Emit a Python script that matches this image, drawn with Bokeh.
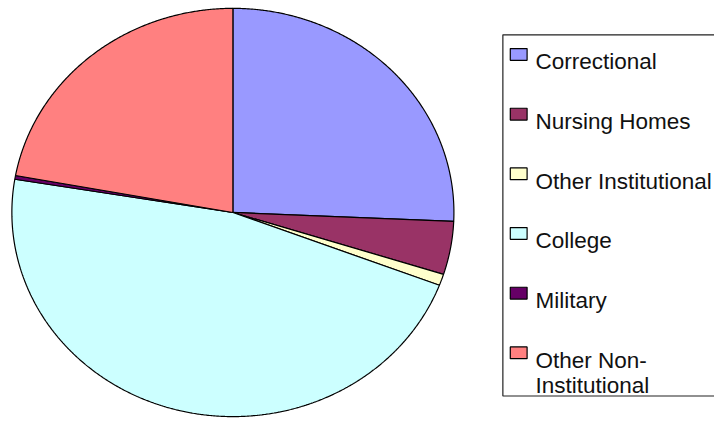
import numpy as np
from bokeh.plotting import figure
from bokeh.models import Range1d, ColumnDataSource
from bokeh.core.properties import value
from bokeh.embed import file_html
from bokeh.resources import INLINE

# ---- data ----
categories = ["Correctional", "Nursing Homes", "Other Institutional",
              "College", "Military", "Other Non-Institutional"]
shares = [25.7, 4.2, 0.9, 46.8, 0.3, 22.1]
colors = ["#9999FF", "#993366", "#FFFFCC", "#CCFFFF", "#660066", "#FF8080"]
legend_lines = [["Correctional"], ["Nursing Homes"], ["Other Institutional"],
                ["College"], ["Military"], ["Other Non-", "Institutional"]]

# ---- layout (coordinates in the reference's 722x429 pixel space) ----
W, H = 714, 421
RW, RH = 722, 429
cx, cy, rx, ry = 235.0, 216.0, 223.5, 208.0
FONT = value("Liberation Sans")

p = figure(width=W, height=H, output_backend="svg", toolbar_location=None,
           x_range=Range1d(0, RW), y_range=Range1d(RH, 0),
           min_border=0)
p.axis.visible = False
p.grid.visible = False
p.outline_line_color = None
p.background_fill_color = "white"

# ---- pie wedges as elliptical patches computed from the shares ----
frac = np.array(shares, dtype=float) / np.sum(shares)
cum = np.concatenate([[0.0], np.cumsum(frac)])
xs, ys = [], []
for i in range(len(frac)):
    a0 = np.pi / 2 - 2 * np.pi * cum[i]
    a1 = np.pi / 2 - 2 * np.pi * cum[i + 1]
    n = max(4, int(abs(a1 - a0) * 180))
    t = np.linspace(a0, a1, n)
    xs.append(list(np.concatenate([[cx], cx + rx * np.cos(t), [cx]])))
    ys.append(list(np.concatenate([[cy], cy - ry * np.sin(t), [cy]])))
src = ColumnDataSource(dict(xs=xs, ys=ys, color=colors, name=categories))
p.patches("xs", "ys", source=src, fill_color="color", line_color="black",
          line_width=1.2)

# ---- legend frame (open on the right: it runs past the picture edge) ----
box_left, box_top, box_bottom = 508, 35, 403
p.line(x=[RW + 20, box_left, box_left, RW + 20],
       y=[box_top, box_top, box_bottom, box_bottom],
       line_color="#222222", line_width=1.2)

row0, row_step = 55.0, 60.8
ky = [row0 + row_step * i for i in range(len(categories))]
p.rect(x=[524] * len(categories), y=ky, width=17, height=12,
       fill_color=colors, line_color="black", line_width=1.2)

tx, ty, tt = [], [], []
for i, lines in enumerate(legend_lines):
    for j, ln in enumerate(lines):
        tx.append(541)
        ty.append(ky[i] + 7.5 + 26 * j)
        tt.append(ln)
p.text(x=tx, y=ty, text=tt, text_font=FONT, text_font_size="22.5px",
       text_color="#111111", text_baseline="alphabetic", text_align="left")

open("out.html", "w").write(file_html(p, INLINE))
